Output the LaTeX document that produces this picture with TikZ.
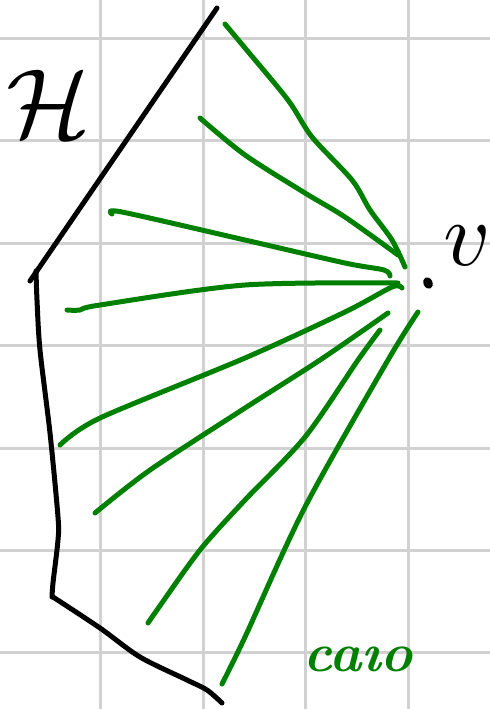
\documentclass[tikz,border=0pt]{standalone}
\usetikzlibrary{positioning}
\definecolor{gridgrey}{gray}{0.82}
\definecolor{pengreen}{RGB}{0,128,0}
\tikzset{
  sheet/.style={draw=gridgrey,line width=0.6mm},
  ink/.style={draw=black,line width=1mm,line cap=round,line join=round},
  ray/.style={draw=pengreen,line width=1mm,line cap=round,line join=round},
  lbl/.style={inner sep=0pt},
}
\begin{document}
\begin{tikzpicture}[x=0.2mm,y=-0.2mm]

\useasboundingbox (0,0) rectangle (490,709);
\fill[white] (0,0) rectangle (490,709);

% squared paper
\foreach \gx in {100,203,305,408} \draw[sheet] (\gx,0) -- (\gx,709);
\foreach \gy in {38,140,243,345,448,550,652} \draw[sheet] (0,\gy) -- (490,\gy);

% boundary
\draw[ink] (217,8) -- (30,281);
\draw[ink] plot[smooth] coordinates {(36,271) (37,300) (40,350) (50,433) (58,517) (58,540) (53,583) (52,597)};
\draw[ink] plot[smooth] coordinates {(53,597) (100,628) (140,657) (187,680) (207,690) (222,703)};

\node[lbl,scale=5.6] (hlab) at (49,104) {$\mathcal{H}$};

% point and its label
\coordinate (vdot) at (428,283);
\fill[rotate around={25:(vdot)}] (vdot) ellipse [x radius=4.5,y radius=6];
\node[lbl,scale=5.2] (vlab) at (467,246) {$v$};

% green rays towards v
\draw[ray] plot[smooth] coordinates {(225,24) (245,48) (288,100) (312,137) (352,180) (370,210) (392,240) (405,267)};
\draw[ray] plot[smooth] coordinates {(200,118) (245,155) (305,193) (345,217) (398,255)};
\draw[ray] plot[smooth] coordinates {(112,214) (122,212) (245,240) (345,263) (384,270) (390,276)};
\draw[ray] plot[smooth] coordinates {(67,310) (80,310) (100,305) (245,285) (398,283)};
\draw[ray] plot[smooth] coordinates {(402,288) (392,287) (345,312) (245,358) (100,418) (60,445)};
\draw[ray] plot[smooth] coordinates {(388,313) (320,360) (245,408) (150,470) (95,513)};
\draw[ray] plot[smooth] coordinates {(380,330) (358,360) (305,437) (245,500) (200,550) (157,610) (148,623)};
\draw[ray] plot[smooth] coordinates {(418,312) (388,360) (305,507) (245,637) (222,684)};

\node[lbl,scale=3.1,text=pengreen,font=\bfseries\itshape] (cap) at (358,659) {ca\i o};

\end{tikzpicture}
\end{document}
